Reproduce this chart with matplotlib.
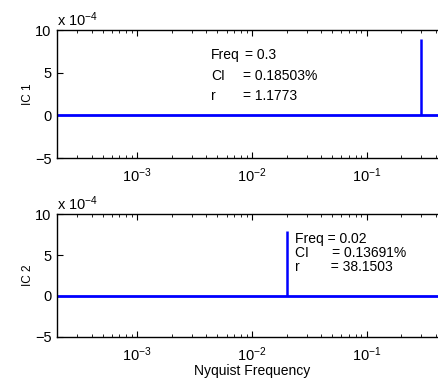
import numpy as np
import matplotlib
matplotlib.use('Agg')
import matplotlib.pyplot as plt
from matplotlib.ticker import LogLocator, NullFormatter

plt.rcParams['font.family'] = ['Liberation Sans', 'DejaVu Sans']
plt.rcParams['mathtext.fontset'] = 'custom'
plt.rcParams['mathtext.rm'] = 'Liberation Sans'
plt.rcParams['mathtext.it'] = 'Liberation Sans:italic'
plt.rcParams['font.size'] = 10

# spectrum of each component: a single peak on a flat baseline
ic_names = ['IC 1', 'IC 2']
peak_freq = [0.3, 0.02]
peak_amp = [8.9e-4, 7.9e-4]
ci_pct = ['0.18503%', '0.13691%']
r_val = ['1.1773', '38.1503']
freq_lim = [2e-4, 0.5]
scale = 1e-4
yticks = [-5, 0, 5, 10]
xticks = [1e-3, 1e-2, 1e-1]
xticklabels = ['$10^{-3}$', '$10^{-2}$', '$10^{-1}$']

fig = plt.figure(figsize=(4.39, 3.81), dpi=100)
# [left, bottom, width, height]; right edge runs past the figure
positions = [[0.130, 0.585, 0.888, 0.336],
             [0.130, 0.116, 0.888, 0.322]]

axes = []
for i, pos in enumerate(positions):
    ax = fig.add_axes(pos)
    ax.set_xscale('log')
    ax.set_xlim(freq_lim)
    ax.set_ylim(-5, 10)
    ax.axhline(0, color='#0000ff', lw=2.0)
    ax.vlines(peak_freq[i], 0, peak_amp[i] / scale, color='#0000ff', lw=1.8)

    ax.set_yticks(yticks)
    ax.set_xticks(xticks)
    ax.set_xticklabels(xticklabels)
    ax.xaxis.set_minor_locator(LogLocator(base=10, subs=np.arange(2, 10)))
    ax.xaxis.set_minor_formatter(NullFormatter())
    ax.tick_params(which='both', direction='in', top=True, right=True, labelsize=10.5)
    ax.tick_params(which='major', length=4, width=0.8, pad=4)
    ax.tick_params(which='minor', length=2, width=0.6)
    ax.tick_params(axis='x', pad=6)
    for s in ax.spines.values():
        s.set_linewidth(1.0)
    ax.set_ylabel(ic_names[i], fontsize=8.5, labelpad=1)
    ax.text(0.0, 1.01, 'x 10$^{-4}$', transform=ax.transAxes, fontsize=10.5,
            ha='left', va='bottom')
    axes.append(ax)

# peak annotations
ax1, ax2 = axes
fs = 10
ax1.text(0.395, 0.805, 'Freq', transform=ax1.transAxes, fontsize=fs, va='center')
ax1.text(0.395, 0.64, 'CI', transform=ax1.transAxes, fontsize=fs, va='center')
ax1.text(0.395, 0.484, 'r', transform=ax1.transAxes, fontsize=fs, va='center')
ax1.text(0.482, 0.805, '= %g' % peak_freq[0], transform=ax1.transAxes, fontsize=fs, va='center')
ax1.text(0.477, 0.64, '= ' + ci_pct[0], transform=ax1.transAxes, fontsize=fs, va='center')
ax1.text(0.477, 0.484, '= ' + r_val[0], transform=ax1.transAxes, fontsize=fs, va='center')

ax2.text(0.610, 0.80, 'Freq = %g' % peak_freq[1], transform=ax2.transAxes, fontsize=fs, va='center')
ax2.text(0.610, 0.68, 'CI      = ' + ci_pct[1], transform=ax2.transAxes, fontsize=fs, va='center')
ax2.text(0.610, 0.565, 'r        = ' + r_val[1], transform=ax2.transAxes, fontsize=fs, va='center')

ax2.set_xlabel('Nyquist Frequency', fontsize=10, labelpad=0)

fig.savefig('out.png', dpi=100)
